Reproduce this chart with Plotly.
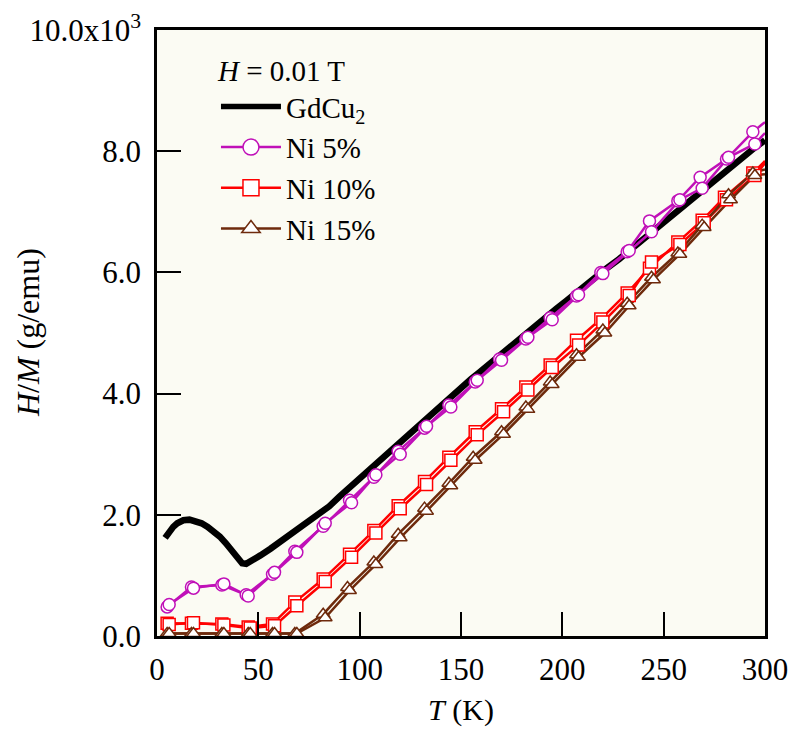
import plotly.graph_objects as go

# ---------------- data ----------------
t_gd = [4, 6, 8, 10, 13, 16, 19, 22, 25, 28, 31, 34, 37, 40, 42, 44, 47, 51, 56, 62,
        68, 74, 79, 85, 90, 95, 100, 105, 111, 117, 122, 128, 134, 139, 143, 150, 155,
        159, 165, 170, 176, 181, 186, 192, 197, 202, 207, 213, 218, 222, 228, 232, 238,
        243, 248, 253, 258, 264, 269, 274, 279, 285, 290, 295, 300]
v_gd = [1.62, 1.72, 1.80, 1.86, 1.91, 1.92, 1.90, 1.86, 1.80, 1.73, 1.64, 1.53, 1.42,
        1.28, 1.20, 1.19, 1.24, 1.33, 1.44, 1.58, 1.72, 1.86, 1.98, 2.14, 2.30, 2.45,
        2.60, 2.76, 2.95, 3.13, 3.28, 3.46, 3.63, 3.78, 3.91, 4.10, 4.24, 4.35, 4.52,
        4.66, 4.82, 4.96, 5.10, 5.25, 5.40, 5.53, 5.67, 5.83, 5.96, 6.07, 6.22, 6.33,
        6.50, 6.64, 6.78, 6.92, 7.06, 7.22, 7.36, 7.50, 7.63, 7.80, 7.94, 8.06, 8.18]

t5_a = [5, 17, 32, 44, 57, 68, 82, 95, 107, 119, 132, 144, 157, 169, 182, 194, 207,
        219, 232, 243, 257, 268, 281, 294, 300]
v5_a = [0.48, 0.81, 0.84, 0.68, 1.02, 1.40, 1.81, 2.24, 2.62, 3.05, 3.43, 3.81, 4.19,
        4.57, 4.90, 5.25, 5.61, 6.00, 6.34, 6.85, 7.18, 7.57, 7.87, 8.32, 8.48]
t5_b = [6, 18, 33, 45, 58, 69, 83, 96, 108, 120, 133, 145, 158, 170, 183, 195, 208,
        220, 233, 244, 258, 269, 282, 295, 300]
v5_b = [0.52, 0.79, 0.86, 0.66, 1.05, 1.38, 1.86, 2.20, 2.66, 3.00, 3.46, 3.78, 4.22,
        4.55, 4.93, 5.22, 5.63, 5.98, 6.36, 6.67, 7.20, 7.39, 7.90, 8.12, 8.30]

t10_a = [5, 17, 32, 45, 57, 68, 82, 95, 107, 119, 132, 144, 157, 170, 182, 194, 207,
         219, 232, 243, 257, 269, 280, 294, 300]
v10_a = [0.21, 0.21, 0.20, 0.15, 0.20, 0.56, 0.94, 1.35, 1.74, 2.15, 2.55, 2.95, 3.37,
         3.75, 4.11, 4.47, 4.88, 5.23, 5.66, 6.07, 6.50, 6.86, 7.24, 7.64, 7.84]
t10_b = [6, 18, 33, 46, 58, 69, 83, 96, 108, 120, 133, 145, 158, 171, 183, 195, 208,
         220, 233, 244, 258, 270, 281, 295, 300]
v10_b = [0.19, 0.22, 0.18, 0.13, 0.17, 0.50, 0.90, 1.30, 1.70, 2.10, 2.50, 2.90, 3.32,
         3.70, 4.06, 4.43, 4.80, 5.18, 5.62, 6.17, 6.46, 6.82, 7.20, 7.60, 7.80]

t15_a = [5, 17, 32, 45, 57, 68, 82, 94, 107, 119, 132, 144, 156, 170, 182, 194, 207,
         220, 232, 244, 257, 269, 282, 294, 300]
v15_a = [0.04, 0.04, 0.04, 0.04, 0.04, 0.04, 0.36, 0.80, 1.22, 1.68, 2.11, 2.52, 2.95,
         3.37, 3.78, 4.19, 4.64, 5.05, 5.49, 5.92, 6.32, 6.78, 7.28, 7.64, 7.70]
t15_b = [6, 18, 33, 46, 58, 69, 83, 95, 108, 120, 133, 145, 157, 171, 183, 195, 208,
         221, 233, 245, 258, 270, 283, 295, 300]
v15_b = [0.04, 0.04, 0.04, 0.04, 0.04, 0.04, 0.30, 0.75, 1.18, 1.62, 2.06, 2.48, 2.90,
         3.33, 3.74, 4.15, 4.60, 5.00, 5.45, 5.88, 6.30, 6.74, 7.20, 7.60, 7.62]

x_ticks = [0, 50, 100, 150, 200, 250, 300]
y_ticks = [0, 2, 4, 6, 8, 10]
y_ticktext = ["0.0", "2.0", "4.0", "6.0", "8.0", "10.0x10<sup>3</sup>"]

# ---------------- figure ----------------
FONT = "Liberation Serif"
fig = go.Figure()

series = [
    ("Ni 5%", "#c010b8", "circle", (t5_a, v5_a), (t5_b, v5_b)),
    ("Ni 10%", "#ff0000", "square", (t10_a, v10_a), (t10_b, v10_b)),
    ("Ni 15%", "#6e2a0c", "triangle-up", (t15_a, v15_a), (t15_b, v15_b)),
]

# lines first
fig.add_trace(go.Scatter(x=t_gd, y=v_gd, mode="lines", showlegend=False,
                         line=dict(color="black", width=6.5)))
for name, color, symbol, run_a, run_b in series:
    for tt, vv in (run_a, run_b):
        fig.add_trace(go.Scatter(x=tt, y=vv, mode="lines", showlegend=False,
                                 line=dict(color=color, width=2.5)))
# markers on top (last point of each run is the line end, no marker)
for name, color, symbol, run_a, run_b in series:
    for tt, vv in (run_a, run_b):
        fig.add_trace(go.Scatter(x=tt[:-1], y=vv[:-1], mode="markers",
                                 showlegend=False, cliponaxis=False,
                                 marker=dict(symbol=symbol, size=12, color="white",
                                             line=dict(color=color, width=1.5))))

# legend entries
fig.add_trace(go.Scatter(x=[None], y=[None], mode="lines", name="GdCu<sub>2</sub>",
                         line=dict(color="black", width=5.5), legendgroup="g0"))
for i, (name, color, symbol, run_a, run_b) in enumerate(series):
    fig.add_trace(go.Scatter(x=[None], y=[None], mode="lines+markers", name=name,
                             legendgroup="g%d" % (i + 1),
                             line=dict(color=color, width=2.5),
                             marker=dict(symbol=symbol, size=18, color="white",
                                         line=dict(color=color, width=1.5))))

fig.update_layout(
    width=794, height=731,
    margin=dict(l=157, r=29, t=30, b=95),
    paper_bgcolor="white", plot_bgcolor="#fbfbf3",
    font=dict(family=FONT, size=30, color="black"),
    showlegend=True,
    legend=dict(
        x=0.097, y=0.978, xanchor="left", yanchor="top",
        bgcolor="rgba(0,0,0,0)", borderwidth=0,
        title=dict(text="<i>H</i> = 0.01 T", font=dict(family=FONT, size=29)),
        font=dict(family=FONT, size=29),
        tracegroupgap=0, itemsizing="trace", itemwidth=60,
    ),
    xaxis=dict(range=[0, 300], tickvals=x_ticks, ticks="inside", ticklen=24,
               tickwidth=2, tickcolor="black", showline=True, linecolor="black",
               linewidth=2.5, mirror=True, showgrid=False, zeroline=False,
               automargin=False, ticklabelstandoff=4,
               title=dict(text="<i>T</i> (K)", standoff=14,
                          font=dict(family=FONT, size=30)),
               tickfont=dict(family=FONT, size=31)),
    yaxis=dict(range=[0, 10], tickvals=y_ticks, ticktext=y_ticktext,
               ticks="inside", ticklen=24, tickwidth=2, tickcolor="black",
               showline=True, linecolor="black", linewidth=2.5, mirror=True,
               showgrid=False, zeroline=False,
               automargin=False, ticklabelstandoff=7,
               tickfont=dict(family=FONT, size=31)),
    annotations=[dict(text="<i>H</i>/<i>M</i> (g/emu)", xref="paper", yref="paper",
                      x=-0.212, y=0.5, xanchor="center", yanchor="middle",
                      textangle=-90, showarrow=False,
                      font=dict(family=FONT, size=32))],
)

fig.write_html("out.html")
